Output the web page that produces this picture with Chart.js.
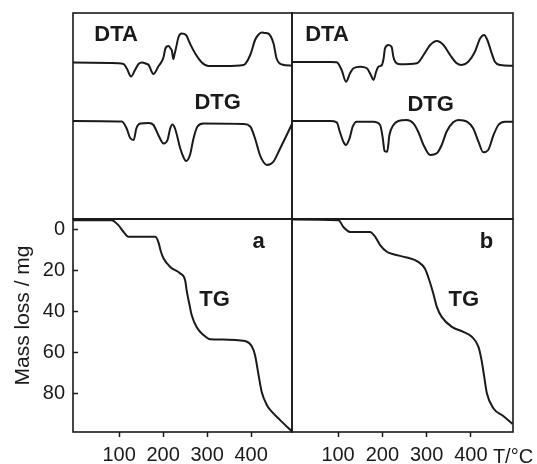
<!DOCTYPE html>
<html>
<head>
<meta charset="utf-8">
<script src="https://cdn.jsdelivr.net/npm/chart.js@4.4.0/dist/chart.umd.min.js"></script>
<style>
  body { margin: 0; background: #fff; }
  #wrap { width: 537px; height: 464px; }
</style>
</head>
<body>
<div id="wrap"><canvas id="chart"></canvas></div>
<script>
const X_TICKS = [100, 200, 300, 400];
const Y_TICKS = [0, 20, 40, 60, 80];

// DTA / DTG: [T, signal] with signal relative to the baseline (arbitrary units)
const dtaA = [[-5,0.5],[80,0],[110,-1],[118,-6],[127,-13.5],[136,-7],[144,-1],[152,0.5],[160,-0.5],[167,-2],[178,-11],[189,-3.5],[196,1],[201,6],[205,14.5],[212,17],[217,14.5],[220,12],[223,4],[226,9],[229,14.5],[235,26],[242,29.5],[252,28],[261,19.5],[273,9.5],[288,0.5],[303,-3],[340,-3],[383,-2],[398,8],[409,23],[416,28],[424,30.5],[432,30],[439,29.5],[451,19.5],[458,4.5],[470,-1.5],[494,-2.7]];
const dtgA = [[-5,0],[106,-0.5],[117,-7.5],[125,-17],[133,-19],[139,-7.5],[148,-2.5],[167,-2],[178,-4],[189,-14],[201,-22.5],[210,-19],[216,-7.5],[221,-3.5],[227,-7.5],[239,-27.5],[246,-36],[252,-40],[261,-34],[269,-17.5],[278,-5.5],[292,-2.5],[383,-3],[398,-5.5],[409,-17.5],[420,-34],[428,-41],[436,-44],[451,-40.5],[466,-27.5],[481,-14],[494,-2]];
const dtaB = [[-4,1],[82,1],[97,0.7],[108,-7],[118,-18.7],[127,-10.3],[135,-5.3],[150,-3.7],[165,-5.3],[174,-12],[180,-17],[186,-8.7],[191,-3.7],[199,-2],[203,5],[206,14.7],[214,18],[221,16],[225,6],[229,1.3],[240,-1.3],[278,-0.3],[293,8],[308,18],[323,22],[338,18],[353,8],[368,-0.3],[379,-2],[394,1.3],[409,11.3],[421,24.7],[430,28],[437,23],[447,9.7],[454,1.3],[466,-2],[495,-2.7]];
const dtgB = [[-4,0],[82,0],[97,-1.3],[104,-10.7],[112,-20.7],[118,-24],[126,-17.3],[133,-5.7],[142,-0.7],[180,-0.7],[195,-4],[201,-17.3],[205,-30],[211,-30.7],[216,-14],[225,-4],[236,0],[255,1],[270,-2.3],[281,-10.7],[293,-24],[308,-34],[323,-32.3],[334,-24],[345,-10.7],[360,-1.3],[372,1],[391,-0.7],[405,-7.3],[417,-20.7],[428,-31.3],[439,-29],[451,-14],[462,-4],[477,-0.7],[495,-0.7]];

// TG: [T, mass loss / mg]
const tgA = [[-5,-4.4],[83,-4.4],[98,-2],[110,1.3],[121,3.7],[182,3.7],[189,6.2],[195,11],[201,14.3],[216,18.4],[239,21.6],[250,24.9],[254,30.6],[260,37],[265,42],[276,47.7],[292,51.7],[307,53.7],[333,53.8],[386,54.6],[402,57.4],[409,61.5],[417,71.2],[424,79.3],[436,85.9],[447,89.1],[466,93.2],[494,99]];
const tgB = [[-4,-4.7],[101,-4.4],[112,-1.1],[127,1.3],[172,1.3],[184,3.7],[195,7.8],[210,11],[225,12.2],[255,13.8],[281,15.9],[296,19.2],[306,24.9],[315,31.4],[323,37.9],[334,42.8],[357,47.7],[383,50.1],[402,52.5],[417,57.4],[424,63.9],[430,72],[436,80.1],[451,87.5],[473,91.2],[494,95.1]];

const DTA_BASE = 156;
const DTG_BASE = 98;
const INK = '#1a1a1a';
const FONT = '"Liberation Sans", Arial, sans-serif';

const pts = (arr, base = 0) => arr.map(([x, y]) => ({ x, y: y + base }));

function line(data, xAxisID, yAxisID) {
  return { data, xAxisID, yAxisID, borderColor: INK, borderWidth: 2,
           pointRadius: 0, fill: false, cubicInterpolationMode: 'monotone' };
}

// text placed in data coordinates of the panel scales
const notes = [
  { text: 'DTA', x: 'xa', y: 'yTop', vx: 93,  vy: 184 },
  { text: 'DTG', x: 'xa', y: 'yTop', vx: 324, vy: 116 },
  { text: 'DTA', x: 'xb', y: 'yTop', vx: 75,  vy: 184 },
  { text: 'DTG', x: 'xb', y: 'yTop', vx: 309, vy: 114 },
  { text: 'a',   x: 'xa', y: 'yTG',  vx: 417, vy: 6 },
  { text: 'TG',  x: 'xa', y: 'yTG',  vx: 317, vy: 34.6 },
  { text: 'b',   x: 'xb', y: 'yTG',  vx: 435, vy: 6 },
  { text: 'TG',  x: 'xb', y: 'yTG',  vx: 384, vy: 34.6 }
];

const framePlugin = {
  id: 'frame',
  afterDatasetsDraw(chart) {
    const { ctx, scales: s } = chart;
    ctx.save();
    ctx.strokeStyle = INK;
    ctx.lineWidth = 1.6;
    for (const x of [s.xa, s.xb]) {
      for (const y of [s.yTop, s.yTG]) {
        ctx.strokeRect(x.left, y.top, x.right - x.left, y.bottom - y.top);
      }
    }
    ctx.lineWidth = 2.2;
    ctx.beginPath();
    ctx.moveTo(s.xa.left, s.yTG.top);
    ctx.lineTo(s.xb.right, s.yTG.top);
    ctx.stroke();

    ctx.fillStyle = INK;
    ctx.textAlign = 'center';
    ctx.textBaseline = 'middle';
    ctx.font = 'bold 22px ' + FONT;
    notes.forEach(n => {
      ctx.fillText(n.text, s[n.x].getPixelForValue(n.vx), s[n.y].getPixelForValue(n.vy));
    });

    ctx.font = '20px ' + FONT;
    ctx.fillText('T/°C', s.xb.right, s.xb.top + 25);

    ctx.font = '21px ' + FONT;
    ctx.translate(23, (s.yTG.top + s.yTG.bottom) / 2 - 10);
    ctx.rotate(-Math.PI / 2);
    ctx.fillText('Mass loss / mg', 0, 0);
    ctx.restore();
  }
};

const xAxis = (min, max, weight) => ({
  type: 'linear', position: 'bottom', stack: 'x', stackWeight: weight,
  min, max,
  afterBuildTicks: sc => { sc.ticks = X_TICKS.map(v => ({ value: v })); },
  afterFit: sc => { sc.height = 32; sc.paddingLeft = 0; sc.paddingRight = 0; },
  grid: { drawOnChartArea: false, tickLength: 5, tickColor: INK, tickWidth: 1.5 },
  border: { display: false },
  ticks: { color: INK, padding: 6, autoSkip: false, maxRotation: 0, font: { family: FONT, size: 20 } }
});

new Chart(document.getElementById('chart'), {
  type: 'line',
  data: {
    datasets: [
      line(pts(dtaA, DTA_BASE), 'xa', 'yTop'),
      line(pts(dtgA, DTG_BASE), 'xa', 'yTop'),
      line(pts(tgA), 'xa', 'yTG'),
      line(pts(dtaB, DTA_BASE), 'xb', 'yTop'),
      line(pts(dtgB, DTG_BASE), 'xb', 'yTop'),
      line(pts(tgB), 'xb', 'yTG')
    ]
  },
  options: {
    responsive: true,
    maintainAspectRatio: false,
    animation: false,
    layout: { padding: { top: 13, right: 24, left: 0, bottom: 0 } },
    plugins: { legend: { display: false }, tooltip: { enabled: false } },
    scales: {
      xa: xAxis(-5, 493, 219),
      xb: xAxis(-4, 495, 221),
      yTG: {
        type: 'linear', position: 'left', stack: 'y', stackWeight: 213,
        min: -5, max: 99, reverse: true,
        afterBuildTicks: sc => { sc.ticks = Y_TICKS.map(v => ({ value: v })); },
        afterFit: sc => { sc.width = 73; sc.paddingTop = 0; sc.paddingBottom = 0; },
        grid: { drawOnChartArea: false, tickLength: -5, tickColor: INK, tickWidth: 1.5 },
        border: { display: false },
        ticks: { color: INK, padding: 13, font: { family: FONT, size: 20 } }
      },
      yTop: {
        type: 'linear', position: 'left', stack: 'y', stackWeight: 206,
        min: 0, max: 206,
        afterFit: sc => { sc.width = 73; sc.paddingTop = 0; sc.paddingBottom = 0; },
        grid: { display: false },
        border: { display: false },
        ticks: { display: false }
      }
    }
  },
  plugins: [framePlugin]
});
</script>
</body>
</html>
